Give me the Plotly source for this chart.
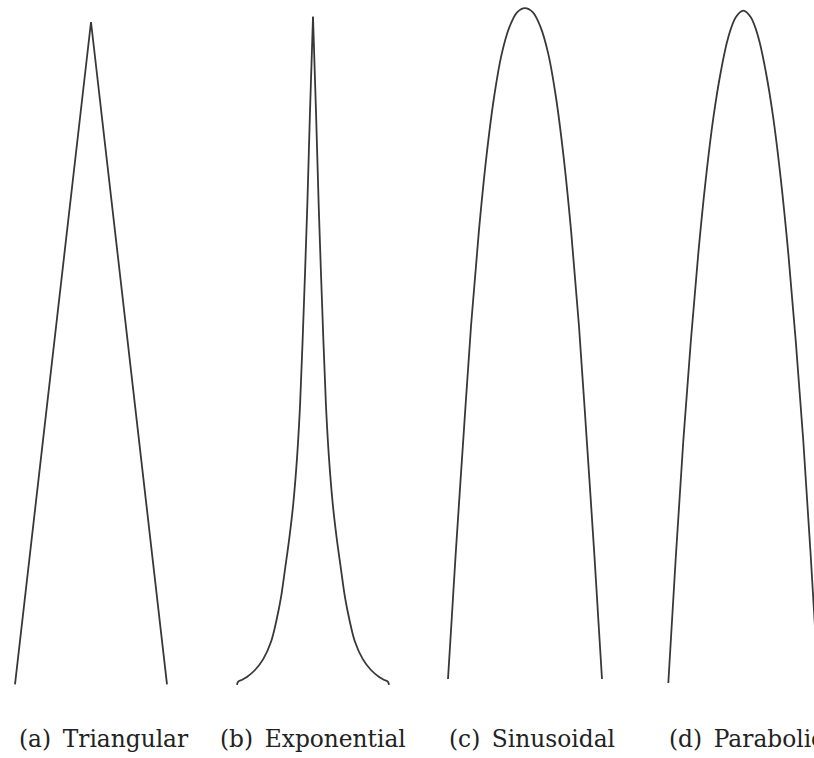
import plotly.graph_objects as go

# ---- data (normalised shape values) ----
labels = ["(a)\u2002Triangular", "(b)\u2002Exponential", "(c)\u2002Sinusoidal", "(d)\u2002Parabolic"]

tri_x = [-1.0, 0.0, 1.0]
tri_y = [-0.002, 0.997, -0.002]

exp_x = [-1.0, -0.985, -0.93, -0.87, -0.76, -0.655, -0.55, -0.48, -0.42, -0.37, -0.31, -0.26,
         -0.21, -0.17, -0.12, -0.075, -0.04, 0.0,
         0.04, 0.075, 0.12, 0.17, 0.21, 0.26, 0.31, 0.37, 0.42, 0.48, 0.55, 0.655, 0.76, 0.87,
         0.93, 0.985, 1.0]
exp_y = [-0.003, 0.002, 0.005, 0.009, 0.02, 0.036, 0.063, 0.095, 0.13, 0.17, 0.22, 0.27,
         0.34, 0.42, 0.57, 0.72, 0.86, 1.005,
         0.86, 0.72, 0.57, 0.42, 0.34, 0.27, 0.22, 0.17, 0.13, 0.095, 0.063, 0.036, 0.02, 0.009,
         0.005, 0.002, -0.003]

sin_x = [-1.0, -0.95, -0.9, -0.8, -0.7, -0.6, -0.5, -0.4, -0.3, -0.2, -0.1, 0.0,
         0.1, 0.2, 0.3, 0.4, 0.5, 0.6, 0.7, 0.8, 0.9, 0.95, 1.0]
sin_y = [0.006, 0.10, 0.195, 0.37, 0.54, 0.68, 0.795, 0.885, 0.95, 0.99, 1.012, 1.018,
         1.012, 0.99, 0.95, 0.885, 0.795, 0.68, 0.54, 0.37, 0.195, 0.10, 0.006]

par_x = [-1.0, -0.9, -0.8, -0.7, -0.6, -0.5, -0.4, -0.3, -0.2, -0.1, 0.0,
         0.1, 0.2, 0.3, 0.4, 0.5, 0.6, 0.7, 0.8, 0.9, 1.0]
par_y = [0.0, 0.19, 0.365, 0.515, 0.648, 0.76, 0.852, 0.922, 0.974, 1.004, 1.014,
         1.004, 0.974, 0.922, 0.852, 0.76, 0.648, 0.515, 0.365, 0.19, 0.0]

series = [(tri_x, tri_y), (exp_x, exp_y), (sin_x, sin_y), (par_x, par_y)]
shapes = ["linear", "cusp", "spline", "spline"]

# ---- layout geometry (pixels) ----
W, H = 814, 758
centers = [91, 313, 525, 743.3]
halfw = [76, 76, 77, 75]
pad = 105
label_left = [17, 218, 447, 667]
label_y = 738
y0_px, y1_px = 683, 20  # pixel rows of y=0 and y=1

fig = go.Figure()
line_color = "#383838"


def add_line(xs, ys, ax, shape):
    fig.add_trace(go.Scatter(x=xs, y=ys, mode="lines", xaxis=ax, yaxis="y",
                             line=dict(color=line_color, width=1.8, shape=shape, smoothing=1.0)
                             if shape == "spline" else dict(color=line_color, width=1.8),
                             hoverinfo="skip", showlegend=False))


for i, ((xs, ys), c, h, shp) in enumerate(zip(series, centers, halfw, shapes)):
    ax = "x" if i == 0 else f"x{i+1}"
    if shp == "cusp":
        k = ys.index(max(ys))
        add_line(xs[:k + 1], ys[:k + 1], ax, "spline")
        add_line(xs[k:], ys[k:], ax, "spline")
    else:
        add_line(xs, ys, ax, shp)
    lpx = max(0, c - pad)
    rpx = min(W, c + pad)
    axis = dict(domain=[lpx / W, rpx / W], range=[(lpx - c) / h, (rpx - c) / h],
                visible=False, anchor="y", fixedrange=True)
    key = "xaxis" if i == 0 else f"xaxis{i+1}"
    fig.layout[key] = axis

ppu = y0_px - y1_px
fig.update_layout(
    yaxis=dict(domain=[0, 1], range=[-(H - y0_px) / ppu, 1 + y1_px / ppu], visible=False, fixedrange=True),
    width=W, height=H, margin=dict(l=0, r=0, t=0, b=0),
    paper_bgcolor="white", plot_bgcolor="white", showlegend=False,
)

for lab, lx in zip(labels, label_left):
    fig.add_annotation(text=lab, xref="paper", yref="paper", x=lx / W, y=1 - label_y / H,
                       xanchor="left", yanchor="middle", showarrow=False,
                       font=dict(family="DejaVu Serif", size=23.3, color="#222222"))

fig.write_html("out.html")
